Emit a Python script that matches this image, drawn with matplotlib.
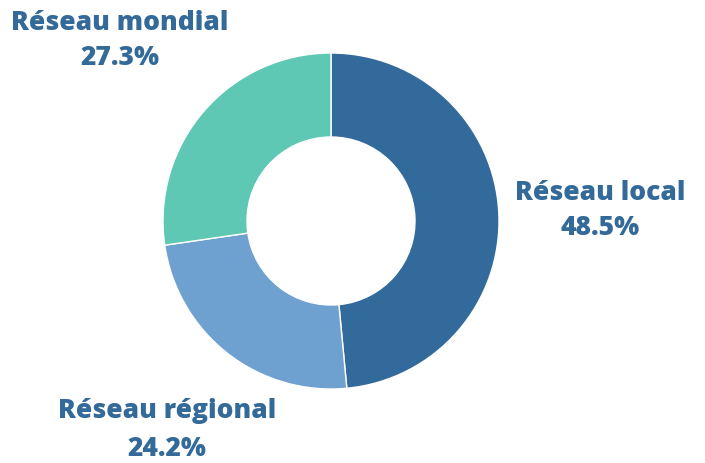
import matplotlib
matplotlib.use("Agg")
import matplotlib.pyplot as plt

categories = ["Réseau local", "Réseau régional", "Réseau mondial"]
values = [48.5, 24.2, 27.3]
colors = ["#336a9c", "#6fa1d0", "#5ec8b4"]
text_color = "#336a99"

W, H = 705, 463
cx, cy, R = 331, 221, 168

fig = plt.figure(figsize=(W / 100, H / 100), dpi=100)
ax = fig.add_axes([0, 0, 1, 1])
ax.pie(values, colors=colors, startangle=90, counterclock=False, radius=1.0,
       wedgeprops=dict(width=0.5, edgecolor="white", linewidth=1))
ax.set_xlim(-cx / R, (W - cx) / R)
ax.set_ylim(-(H - cy) / R, cy / R)
ax.set_aspect("equal")
ax.axis("off")

# label positions in pixels (name, pct)
label_pos = {
    "Réseau local": ((600, 193), (600, 228)),
    "Réseau régional": ((167, 411), (167, 449)),
    "Réseau mondial": ((120, 23), (120, 58)),
}

def to_data(p):
    return ((p[0] - cx) / R, (cy - p[1]) / R)

for cat, val in zip(categories, values):
    (p1, p2) = label_pos[cat]
    x1, y1 = to_data(p1)
    x2, y2 = to_data(p2)
    ax.text(x1, y1, cat, ha="center", va="center", fontsize=19, fontweight=800,
            family=["Open Sans", "DejaVu Sans"], color=text_color)
    ax.text(x2, y2, f"{val}%", ha="center", va="center", fontsize=19, fontweight=800,
            family=["Open Sans", "DejaVu Sans"], color=text_color)

fig.savefig("out.png", dpi=100)
